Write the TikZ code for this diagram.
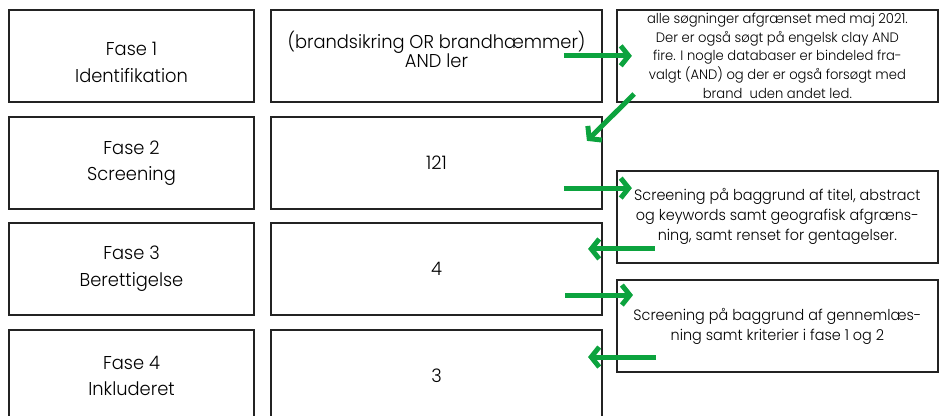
\documentclass[tikz,border=0pt]{standalone}
\usepackage{fontspec}
\setmainfont{Poppins}[UprightFont={* Light}, FakeStretch=0.96]
\usepackage{tikz}
\usetikzlibrary{shapes,arrows.meta}
\definecolor{flowgreen}{RGB}{12,163,62}
\definecolor{boxline}{RGB}{35,35,35}
\tikzset{
  box/.style={rectangle, draw=boxline, line width=1.5pt, minimum height=2.43cm, inner sep=0pt, align=center},
  fase/.style={box, minimum width=6.48cm, font=\fontsize{14}{20}\selectfont},
  result/.style={box, minimum width=8.76cm, font=\fontsize{14}{14.3}\selectfont},
  note/.style={box, minimum width=8.49cm, font=\fontsize{10.3}{14}\selectfont},
  widenote/.style={note, font=\fontsize{11.3}{15}\selectfont},
  flow/.style={draw=flowgreen, line width=3.75pt, -{Straight Barb[length=6pt,width=15pt]}}
}
\newcommand{\fasebox}[3] {\node at (#1) (#2) [fase] {#3};}
\newcommand{\resultbox}[3] {\node at (#1) (#2) [result] {#3};}
\newcommand{\notebox}[4] {\node at (#1) (#2) [#3] {#4};}
\newcommand{\flowarrow}[2] {\draw [flow] (#1) -- (#2);}

\begin{document}
\begin{tikzpicture}
\useasboundingbox (0,0) rectangle (24.846,11.007);

\fasebox{3.48,9.53}{fase1}{\rule{0pt}{20.3pt}Fase 1\\Identifikation}
\fasebox{3.48,6.69}{fase2}{Fase 2\\Screening}
\fasebox{3.48,3.90}{fase3}{Fase 3\\Berettigelse}
\fasebox{3.48,1.06}{fase4}{Fase 4\\Inkluderet}

\resultbox{11.55,9.53}{search}{(brandsikring OR brandhæmmer)\\AND ler\rule[-10.5pt]{0pt}{0pt}}
\resultbox{11.55,6.69}{screened}{121}
\resultbox{11.55,3.90}{eligible}{4}
\resultbox{11.55,1.06}{included}{3}

\notebox{20.57,9.53}{searchnote}{note}{alle søgninger afgrænset med maj 2021.\\Der er også søgt på engelsk clay AND\\fire. I nogle databaser er bindeled fra-\\valgt (AND) og der er også forsøgt med\\brand~ uden andet led.}
\notebox{20.57,5.27}{screennote}{widenote}{Screening på baggrund af titel, abstract\\og keywords samt geografisk afgræns-\\ning, samt renset for gentagelser.}
\notebox{20.57,2.38}{readnote}{widenote}{Screening på baggrund af gennemlæs-\\ning samt kriterier i fase 1 og 2}

\coordinate (searchout) at (14.92,9.53);
\coordinate (searchin) at (16.72,9.53);
\coordinate (noteout) at (16.78,8.52);
\coordinate (screenin) at (15.53,7.28);
\coordinate (screenout) at (14.92,6.03);
\coordinate (screennotein) at (16.72,6.03);
\coordinate (screennoteout) at (17.33,4.42);
\coordinate (eligiblein) at (15.56,4.42);
\coordinate (eligibleout) at (14.95,3.20);
\coordinate (readnotein) at (16.75,3.20);
\coordinate (readnoteout) at (17.36,1.56);
\coordinate (includedin) at (15.56,1.56);

\flowarrow{searchout}{searchin}
\flowarrow{noteout}{screenin}
\flowarrow{screenout}{screennotein}
\flowarrow{screennoteout}{eligiblein}
\flowarrow{eligibleout}{readnotein}
\flowarrow{readnoteout}{includedin}

\end{tikzpicture}
\end{document}
